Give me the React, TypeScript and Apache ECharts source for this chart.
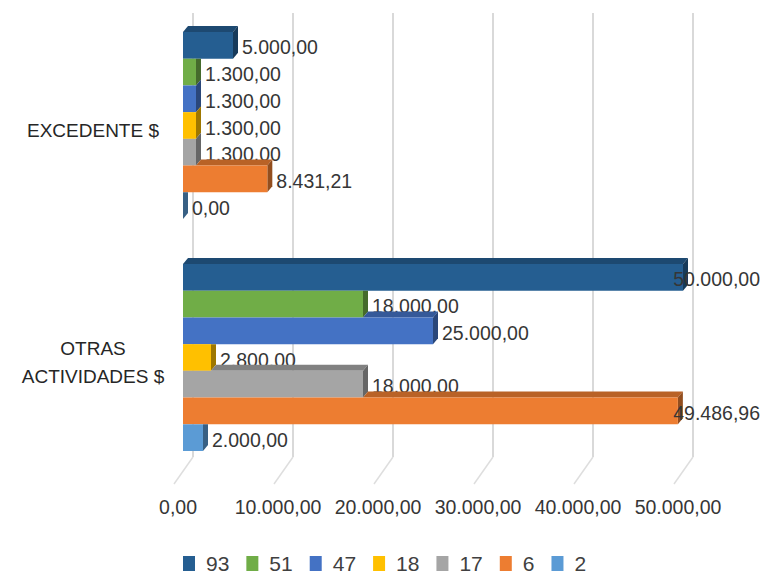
import React, { useEffect, useRef } from 'react';
import * as echarts from 'echarts';

const categories = ['EXCEDENTE $', 'OTRAS\nACTIVIDADES $'];
const seriesNames = ['93', '51', '47', '18', '17', '6', '2'];
const values93 = [5000, 50000];
const values51 = [1300, 18000];
const values47 = [1300, 25000];
const values18 = [1300, 2800];
const values17 = [1300, 18000];
const values6 = [8431.21, 49486.96];
const values2 = [0, 2000];
const seriesValues = [values93, values51, values47, values18, values17, values6, values2];
const colors = ['#255E91', '#70AD47', '#4472C4', '#FFC000', '#A5A5A5', '#ED7D31', '#5B9BD5'];
const xTicks = [0, 10000, 20000, 30000, 40000, 50000];

const FONT = "'Liberation Sans', Arial, sans-serif";
const LABEL_SIZE = 19.5;
const GROUP_FRAC = 0.806;
const DX = 5;
const DY = 6;

function fmt(n: number): string {
  const [i, d] = Math.abs(n).toFixed(2).split('.');
  return i.replace(/\B(?=(\d{3})+(?!\d))/g, '.') + ',' + d;
}

function shade(hex: string, f: number): string {
  const r = parseInt(hex.slice(1, 3), 16);
  const g = parseInt(hex.slice(3, 5), 16);
  const b = parseInt(hex.slice(5, 7), 16);
  return `rgb(${Math.round(r * f)},${Math.round(g * f)},${Math.round(b * f)})`;
}

let measureCtx: CanvasRenderingContext2D | null = null;
function textWidth(t: string): number {
  if (!measureCtx) measureCtx = document.createElement('canvas').getContext('2d');
  if (!measureCtx) return t.length * LABEL_SIZE * 0.55;
  measureCtx.font = `${LABEL_SIZE}px ${FONT}`;
  return measureCtx.measureText(t).width;
}

export default function App() {
  const ref = useRef<HTMLDivElement>(null);
  useEffect(() => {
    if (!ref.current) return;
    const chart = echarts.init(ref.current, undefined, { renderer: 'svg' });
    const N = seriesNames.length;

    const barSeries = seriesNames.map((name, i) => ({
      name,
      type: 'custom',
      xAxisIndex: 0,
      yAxisIndex: 0,
      itemStyle: { color: colors[i] },
      data: seriesValues[i].map((v, c) => [v, c]),
      encode: { x: 0, y: 1 },
      renderItem: (params: any, api: any) => {
        const val = api.value(0);
        const cat = api.value(1);
        const p0 = api.coord([0, cat]);
        const p1 = api.coord([val, cat]);
        const band = api.size([0, 1])[1];
        const groupH = band * GROUP_FRAC;
        const barH = groupH / N;
        const y0 = p0[1] - groupH / 2 + i * barH;
        const x0 = p0[0];
        const x1 = p1[0];
        const c = colors[i];
        const upperX1 = i > 0 ? api.coord([seriesValues[i - 1][cat], cat])[0] : x0;
        const children: any[] = [];
        const topStart = i === 0 ? x0 : Math.max(x0, upperX1);
        if (x1 > topStart || i === 0) {
          children.push({
            type: 'polygon',
            shape: { points: [[topStart, y0], [topStart + DX, y0 - DY], [x1 + DX, y0 - DY], [x1, y0]] },
            style: { fill: shade(c, 0.78) },
          });
        }
        const clipTop = i > 0 && upperX1 > x1;
        children.push({
          type: 'polygon',
          shape: {
            points: clipTop
              ? [[x1, y0], [x1 + DX, y0], [x1 + DX, y0 + barH - DY], [x1, y0 + barH]]
              : [[x1, y0], [x1 + DX, y0 - DY], [x1 + DX, y0 + barH - DY], [x1, y0 + barH]],
          },
          style: { fill: shade(c, 0.62) },
        });
        children.push({
          type: 'rect',
          shape: { x: x0, y: y0, width: Math.max(0, x1 - x0), height: barH },
          style: { fill: c },
        });
        const text = fmt(val);
        const w = textWidth(text);
        let tx = x1 + DX + 4;
        const maxX = api.getWidth() - 3 - w;
        if (tx > maxX) tx = maxX;
        children.push({
          type: 'text',
          x: tx,
          y: y0 + barH / 2 + 2,
          style: {
            text,
            fill: '#363636',
            fontSize: LABEL_SIZE,
            fontFamily: FONT,
            align: 'left',
            verticalAlign: 'middle',
          },
        });
        return { type: 'group', children };
      },
    }));

    const floorSeries = {
      name: 'floor',
      type: 'custom',
      xAxisIndex: 1,
      yAxisIndex: 1,
      silent: true,
      data: xTicks.map((v) => [v, 0]),
      renderItem: (params: any, api: any) => {
        const p = api.coord([api.value(0), 0]);
        return {
          type: 'line',
          shape: { x1: p[0], y1: p[1], x2: p[0] - 19, y2: p[1] + 27 },
          style: { stroke: '#dedede', lineWidth: 1.5 },
        };
      },
    };

    chart.setOption({
      animation: false,
      backgroundColor: '#ffffff',
      textStyle: { fontFamily: FONT },
      legend: {
        data: seriesNames,
        bottom: 2,
        left: 178,
        icon: 'rect',
        itemWidth: 12,
        itemHeight: 15,
        itemGap: 17,
        textStyle: { fontSize: 21, color: '#404040', fontFamily: FONT, padding: [0, 0, 0, 6] },
      },
      grid: [
        { left: 183, width: 500, top: 9.5, height: 464 },
        { left: 193, width: 500, top: 13, height: 444 },
        { left: 183, width: 500, top: 14, height: 464 },
      ],
      xAxis: [
        {
          gridIndex: 0,
          type: 'value',
          min: 0,
          max: 50000,
          interval: 10000,
          axisLine: { show: false },
          axisTick: { show: false },
          splitLine: { show: false },
          axisLabel: {
            formatter: (v: number) => fmt(v),
            fontSize: LABEL_SIZE,
            color: '#363636',
            margin: 23,
            padding: [0, 10, 0, 0],
          },
        },
        {
          gridIndex: 1,
          type: 'value',
          min: 0,
          max: 50000,
          interval: 10000,
          axisLine: { show: false },
          axisTick: { show: false },
          axisLabel: { show: false },
          splitLine: { show: true, lineStyle: { color: '#d9d9d9', width: 2 } },
        },
        {
          gridIndex: 2,
          type: 'value',
          min: 0,
          max: 50000,
          show: false,
        },
      ],
      yAxis: [
        {
          gridIndex: 0,
          type: 'category',
          data: categories,
          inverse: true,
          axisLine: { show: false },
          axisTick: { show: false },
          splitLine: { show: false },
          axisLabel: { show: false },
        },
        {
          gridIndex: 1,
          type: 'value',
          min: 0,
          max: 1,
          show: false,
        },
        {
          gridIndex: 2,
          type: 'category',
          data: categories,
          inverse: true,
          axisLine: { show: false },
          axisTick: { show: false },
          splitLine: { show: false },
          axisLabel: {
            align: 'center',
            margin: 90,
            fontSize: 19,
            lineHeight: 28,
            color: '#262626',
          },
        },
      ],
      series: [floorSeries, ...barSeries],
    });
    return () => chart.dispose();
  }, []);
  return (
    <div
      ref={ref}
      style={{ position: 'absolute', left: 0, top: 0, width: 763, height: 581, background: '#fff' }}
    />
  );
}
